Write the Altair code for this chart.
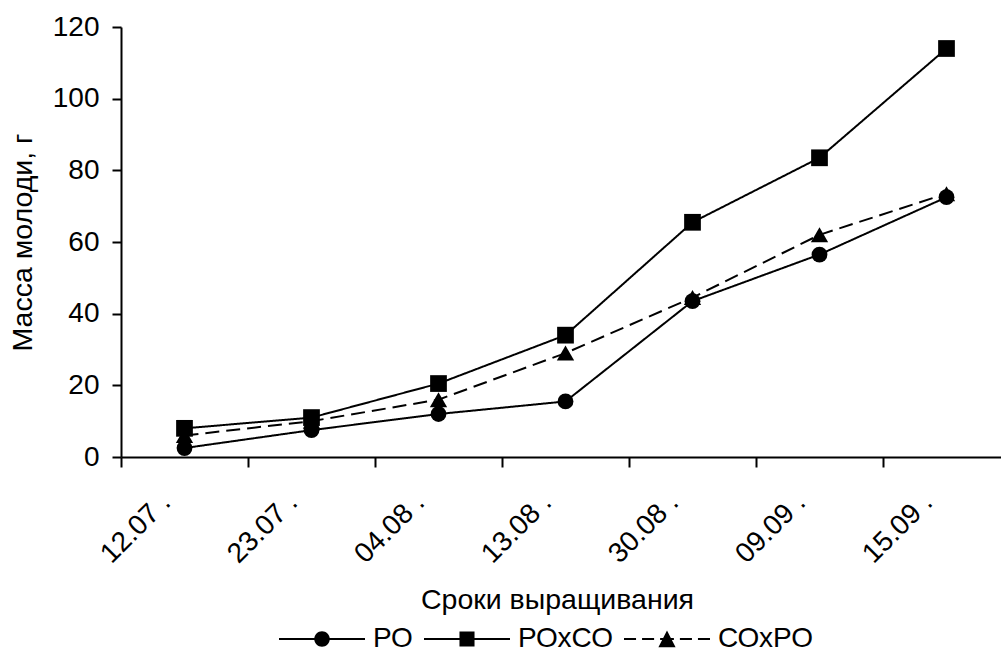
import math
import altair as alt
import pandas as pd

dates = ["12.07 .", "23.07 .", "04.08 .", "13.08 .", "30.08 .", "09.09 .", "15.09 ."]
series_names = ["РО", "РОхСО", "СОхРО"]
po = [2.5, 7.5, 12, 15.5, 43.5, 56.5, 72.5]
poxco = [8, 11, 20.5, 34, 65.5, 83.5, 114]
coxpo = [6, 10, 16, 29, 44.5, 62, 73.5]
y_ticks = [0, 20, 40, 60, 80, 100, 120]

rows = []
for name, vals in zip(series_names, [po, poxco, coxpo]):
    for d, v in zip(dates, vals):
        rows.append({"date": d, "series": name, "value": v})
df = pd.DataFrame(rows)

FONT = "Liberation Sans"

# legend symbol paths in the unit box [-1, 1] (all sub-paths drawn clockwise)
h = 0.024  # half thickness of the legend line


def seg(a, b):
    return "M%.3f,%.3fL%.3f,%.3fL%.3f,%.3fL%.3f,%.3fZ" % (a, -h, b, -h, b, h, a, h)


r = 0.18
circ = "L".join("%.3f,%.3f" % (r * math.cos(2 * math.pi * k / 32), r * math.sin(2 * math.pi * k / 32))
                for k in range(32))
circle_path = seg(-1, 1) + "M" + circ + "Z"
s = 0.175
square_path = seg(-1, 1) + "M%.3f,%.3fL%.3f,%.3fL%.3f,%.3fL%.3f,%.3fZ" % (-s, -s, s, -s, s, s, -s, s)
tri_path = (seg(-1, -0.72) + seg(-0.58, -0.30) + seg(-0.16, 0.16) + seg(0.30, 0.58) + seg(0.72, 1)
            + "M0,-0.20L0.20,0.19L-0.20,0.19Z")

x_enc = alt.X(
    "date:N",
    sort=dates,
    scale=alt.Scale(type="band", range=[0, 889], paddingInner=0, paddingOuter=0),
    axis=alt.Axis(
        title="Сроки выращивания",
        bandPosition=0,
        labelAngle=-45,
        labelAlign="right",
        labelBaseline="top",
        labelOffset=-28,
        labelPadding=21,
        tickSize=10,
        titleX=436,
        titleY=151,
        titleBaseline="alphabetic",
    ),
)
y_enc = alt.Y(
    "value:Q",
    scale=alt.Scale(domain=[0, 120], nice=False, zero=True),
    axis=alt.Axis(
        title="Масса молоди, г",
        values=y_ticks,
        tickSize=9,
        labelPadding=13,
        titleX=-90,
        titleBaseline="alphabetic",
    ),
)

style_specs = [
    ("РО", "circle", 250, [1, 0]),
    ("РОхСО", "square", 280, [1, 0]),
    ("СОхРО", "triangle-up", 300, [14, 7]),
]
layers = []
for name, shp, sz, dash in style_specs:
    base = alt.Chart(df).transform_filter(alt.datum.series == name)
    layers.append(
        base.mark_line(color="black", strokeWidth=2, strokeDash=dash).encode(x=x_enc, y=y_enc)
    )
    layers.append(
        base.mark_point(shape=shp, size=sz, filled=True, color="black", opacity=1).encode(
            x=x_enc, y=y_enc
        )
    )

legend_layer = (
    alt.Chart(df)
    .transform_filter(alt.datum.value < -1)
    .mark_point(filled=True, color="black", opacity=1)
    .encode(
        x=x_enc,
        y=y_enc,
        shape=alt.Shape(
            "series:N",
            scale=alt.Scale(domain=series_names, range=[circle_path, square_path, tri_path]),
            legend=alt.Legend(
                title=None,
                orient="none",
                direction="horizontal",
                legendX=157,
                legendY=568,
                symbolSize=7396,
                symbolFillColor="black",
                symbolOpacity=1,
                labelFontSize=28,
                labelFont=FONT,
                labelColor="black",
                labelOffset=7,
                columnPadding=8,
            ),
        ),
    )
)

chart = (
    alt.layer(*layers, legend_layer)
    .properties(
        width=880,
        height=430,
        autosize=alt.AutoSizeParams(type="none"),
        padding={"left": 121, "top": 27, "right": 0, "bottom": 198},
        background="white",
    )
    .configure_view(stroke=None)
    .configure_axis(
        labelFont=FONT,
        titleFont=FONT,
        labelFontSize=28,
        titleFontSize=28.5,
        titleFontWeight="normal",
        labelColor="black",
        titleColor="black",
        domainColor="black",
        tickColor="black",
        domainWidth=2,
        tickWidth=2,
        grid=False,
        labelFlush=False,
        labelOverlap=False,
    )
)

chart.save("out.html", embed_options={"renderer": "svg", "actions": False})
